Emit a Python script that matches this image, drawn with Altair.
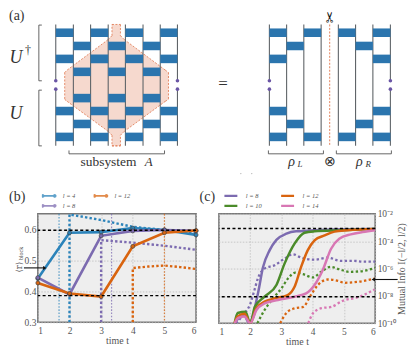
import altair as alt
import pandas as pd

SERIF = "Liberation Serif"
GREY = "#555555"
BLUE, PURPLE, ORANGE, GREEN, PINK = "#2b83ba", "#7c6bb0", "#d9640f", "#4b8b2a", "#d877b4"
GATE = "#2b75ae"

# ---------- diagram values (a) ----------
wires_left = [55, 72.7, 90, 107.7, 125, 142.7, 160, 177.3]
wires_right = [269.7, 287, 304.3, 321.7, 339, 356.3, 373.7, 391.3]
wire_top, wire_bottom, gap_top, gap_bottom = 22.7, 144.7, 79.3, 87.7
odd_rows_left = [31, 57.3, 109.7, 135.7]
even_rows_left = [44.3, 70.3, 96.7, 122.7]
gates_right = [
    (31, 0), (31, 2), (31, 4), (31, 6), (44.3, 1), (44.3, 5), (57.3, 0), (57.3, 6),
    (109.7, 0), (109.7, 6), (122.7, 1), (122.7, 5), (135.7, 0), (135.7, 2), (135.7, 4), (135.7, 6),
]
gate_half = 4.3
hex_x = [64, 66.5, 107.5, 111.5, 111.5, 120, 120, 124, 165, 168.3]
hex_top = [71, 68.5, 38, 34, 22.7, 22.7, 34, 38, 68.5, 71]
hex_bot = [98, 100, 130, 134, 144.7, 144.7, 134, 130, 100, 98]
brackets = [
    (41, 23.3, 38, 23.3), (38, 23.3, 38, 79.3), (38, 79.3, 41, 79.3),
    (41, 88.7, 38, 88.7), (38, 88.7, 38, 144.7), (38, 144.7, 41, 144.7),
    (68.3, 149.3, 68.3, 152.7), (68.3, 152.7, 164.3, 152.7), (164.3, 152.7, 164.3, 149.3),
    (268.7, 149.3, 268.7, 152.7), (268.7, 152.7, 324, 152.7), (324, 152.7, 324, 149.3),
    (337, 149.3, 337, 152.7), (337, 152.7, 392.3, 152.7), (392.3, 152.7, 392.3, 149.3),
]
panel_texts = [("(a)", 8, 14, 14, "normal", "left")]
math_texts = [
    ("U", 15, 56, 18, "italic", "center"), ("†", 27, 48, 12, "normal", "center"),
    ("U", 15, 113, 18, "italic", "center"), ("subsystem", 108, 161, 13.5, "normal", "center"),
    ("A", 148.5, 161, 13, "italic", "center"), ("=", 223, 83, 17, "normal", "center"),
    ("ρ", 292, 161, 14, "italic", "center"), ("L", 300.5, 163, 9, "italic", "center"),
    ("⊗", 331, 161, 14, "normal", "center"),
    ("ρ", 360, 161, 14, "italic", "center"), ("R", 369, 163, 9, "italic", "center"),
]
specks_x, specks_y = [241, 252], [172.6, 172.6]

# ---------- panel (b) ----------
t_axis = [1, 2, 3, 4, 5, 6]
b_solid = {
    "l = 4": [0.441, 0.589, 0.591, 0.604, 0.598, 0.582],
    "l = 8": [0.444, 0.390, 0.579, 0.595, 0.598, 0.595],
    "l = 12": [0.427, 0.393, 0.383, 0.545, 0.589, 0.596],
}
b_dotted = {
    "l = 4": ([2, 2, 3, 4, 5, 6], [0.30, 0.648, 0.630, 0.608, 0.598, 0.587]),
    "l = 8": ([3, 3, 4, 5, 6], [0.30, 0.565, 0.557, 0.547, 0.534]),
    "l = 12": ([4, 4, 4.5, 5, 5.5, 6], [0.30, 0.475, 0.480, 0.483, 0.478, 0.472]),
}
b_thin = {"l = 4": 1.67, "l = 8": 3.33, "l = 12": 5.0}
b_levels = [0.597, 0.386]
b_arrow = [0.56, 1.22]
b_arrow_y = 0.4755

# ---------- panel (c) ----------
c_solid = {
    "l = 8": ([1.5, 1.6, 1.8, 1.97, 2.25, 2.41, 2.62, 2.84, 3.16, 3.47, 3.85, 4.38, 5.1, 6],
              [-10, -9.7, -9.4, -10, -7.8, -5.9, -4.67, -3.9, -3.45, -3.28, -3.24, -3.16, -3.12, -3.1]),
    "l = 10": ([1.5, 1.6, 1.85, 2.0, 2.15, 2.46, 2.84, 3.1, 3.42, 3.74, 4.06, 4.9, 6],
               [-10, -9.25, -9.15, -10, -8.8, -8.06, -7.2, -5.64, -4.18, -3.38, -3.28, -3.2, -3.1]),
    "l = 12": ([1.5, 1.6, 1.82, 2.0, 2.2, 2.46, 2.78, 3.2, 3.42, 3.63, 3.84, 4.06, 4.38, 4.7, 5.12, 6],
               [-10, -9.5, -9.3, -10, -8.9, -8.42, -8.18, -7.94, -7.33, -5.88, -4.67, -3.94, -3.58, -3.3, -3.2, -3.1]),
    "l = 14": ([1.5, 1.62, 1.82, 2.0, 2.2, 2.46, 2.89, 3.42, 3.79, 4.06, 4.32, 4.59, 4.85, 5.22, 5.6, 6],
               [-10, -9.6, -9.5, -10, -9.03, -8.55, -8.3, -8.06, -7.82, -7.2, -6.12, -4.55, -3.82, -3.5, -3.33, -3.2]),
}
c_dotted = {
    "l = 8": ([1.55, 1.7, 1.85, 2.0, 2.12, 2.25, 2.46, 2.78, 3.1, 3.37, 3.63, 4.06, 4.48, 4.9, 5.33, 5.65, 6],
              [-10, -9.6, -9.2, -8.6, -7.7, -6.7, -6, -5.76, -5.27, -4.96, -5.2, -5.35, -5.2, -5.44, -5.44, -5.5, -5.5]),
    "l = 10": ([2.23, 2.46, 2.73, 3, 3.21, 3.44, 3.69, 4, 4.27, 4.57, 4.85, 5.17, 5.54, 6],
               [-10, -9.03, -8.18, -7.45, -6.73, -6.3, -6.41, -6.65, -6.24, -5.88, -6.05, -6.24, -6.2, -5.95]),
    "l = 12": ([2.96, 3.15, 3.43, 3.7, 3.91, 4.17, 4.49, 4.81, 5.02, 5.45, 5.98],
               [-10, -9.27, -8.9, -8.8, -8.06, -7.2, -6.8, -6.9, -7.04, -6.97, -6.73]),
    "l = 14": ([3.86, 4.01, 4.28, 4.6, 4.97, 5.45, 5.98],
               [-10, -9.27, -8.9, -8.8, -8.35, -8.1, -7.53]),
}
c_levels = [-3.07, -8.06]
c_ticks = [-2, -4, -6, -8, -10]
c_arrow = [5.94, 6.72]
c_arrow_y = -6.8

# ---------- (a) build ----------
X0, W, Y0, H = 37, 360, 8, 180
ax = alt.X("x:Q", scale=alt.Scale(domain=[X0, X0 + W], nice=False), axis=None, title=None)
ay = alt.Y("y:Q", scale=alt.Scale(domain=[Y0 + H, Y0], nice=False), axis=None, title=None)


def segs(rows):
    return pd.DataFrame(rows, columns=["x", "y", "x2", "y2"])


wire_rows = []
for wires in (wires_left, wires_right):
    for i, xv in enumerate(wires):
        if i in (0, len(wires) - 1):
            wire_rows += [(xv, wire_top, xv, gap_top), (xv, gap_bottom, xv, wire_bottom)]
        else:
            wire_rows.append((xv, wire_top, xv, wire_bottom))

gate_rows = []
for yc in odd_rows_left:
    for i in (0, 2, 4, 6):
        gate_rows.append((wires_left[i], yc - gate_half, wires_left[i + 1], yc + gate_half))
for yc in even_rows_left:
    for i in (1, 3, 5):
        gate_rows.append((wires_left[i], yc - gate_half, wires_left[i + 1], yc + gate_half))
for yc, i in gates_right:
    gate_rows.append((wires_right[i], yc - gate_half, wires_right[i + 1], yc + gate_half))

hex_df = pd.DataFrame({"x": hex_x, "y": hex_top, "y2": hex_bot})
outline = [(hex_x[i], hex_top[i], hex_x[i + 1], hex_top[i + 1]) for i in range(len(hex_x) - 1)]
outline += [(hex_x[i], hex_bot[i], hex_x[i + 1], hex_bot[i + 1]) for i in range(len(hex_x) - 1)]
outline += [(hex_x[0], hex_top[0], hex_x[0], hex_bot[0]), (hex_x[-1], hex_top[-1], hex_x[-1], hex_bot[-1]),
            (hex_x[4], hex_bot[4], hex_x[5], hex_bot[5])]


def seg_layer(rows, **kw):
    return alt.Chart(segs(rows)).mark_rule(**kw).encode(x=ax, y=ay, x2="x2:Q", y2="y2:Q")


def text_layer(rows):
    out = []
    for s, x, y, size, style, align in rows:
        out.append(
            alt.Chart(pd.DataFrame({"s": [s], "x": [x], "y": [y]}))
            .mark_text(font=SERIF, fontSize=size, fontStyle=style, align=align, baseline="middle", color="#333333")
            .encode(x=ax, y=ay, text="s:N")
        )
    return out


dots = pd.DataFrame({
    "x": [wires_left[0], wires_left[0], wires_left[-1], wires_left[-1],
          wires_right[0], wires_right[0], wires_right[-1], wires_right[-1]],
    "y": [gap_top, gap_bottom] * 4,
})
area = alt.Chart(hex_df).mark_area(color="#f6d9ce", interpolate="linear", opacity=1, orient="vertical", line=False).encode(
    x=ax, y=ay, y2=alt.Y2("y2:Q")
)
diagram = alt.layer(
    area,
    seg_layer(outline, color="#e0744a", strokeDash=[2, 1.5], strokeWidth=0.8),
    seg_layer(wire_rows, color="#5f6468", strokeWidth=1.1),
    seg_layer([(330.3, wire_top, 330.3, wire_bottom)], color="#e0744a", strokeDash=[2, 1.5], strokeWidth=0.9),
    alt.Chart(segs(gate_rows)).mark_rect(color=GATE).encode(x=ax, y=ay, x2="x2:Q", y2="y2:Q"),
    seg_layer(brackets, color="#555555", strokeWidth=0.9),
    alt.Chart(dots).mark_point(filled=True, color="#6a55a5", size=13, opacity=1).encode(x=ax, y=ay),
    alt.Chart(pd.DataFrame({"x": specks_x, "y": specks_y})).mark_point(filled=True, color="#aaaaaa", size=1.5, opacity=1).encode(x=ax, y=ay),
    alt.Chart(pd.DataFrame({"s": ["✂"], "x": [331], "y": [15]})).mark_text(font="DejaVu Sans", fontSize=15, angle=270, color="#111111").encode(x=ax, y=ay, text="s:N"),
    *text_layer(panel_texts + math_texts),
).properties(width=W, height=H)

# ---------- shared styling ----------
grid = dict(grid=True, gridColor="#bdbdbd", gridDash=[1.5, 1.5], gridWidth=0.8, domain=False, ticks=False,
            labelFont=SERIF, labelColor=GREY, labelFontSize=9.5, titleFont=SERIF, titleColor=GREY,
            titleFontWeight="normal")
panel_view = alt.ViewBackground(fill="#eeeeee", stroke="#777777", strokeWidth=1.6)
line_glyph = "M-1,0L1,0"
dot_glyph = ("M-1,0L1,0M-1.15,0A0.15,0.15 0 1,0 -0.85,0A0.15,0.15 0 1,0 -1.15,0"
             "M0.85,0A0.15,0.15 0 1,0 1.15,0A0.15,0.15 0 1,0 0.85,0")

# ---------- (b) build ----------
bx = alt.X("t:Q", scale=alt.Scale(domain=[1, 6], nice=False),
           axis=alt.Axis(values=t_axis, format="d", title="time t", labelPadding=3, titleFontSize=10, titlePadding=1, **grid))
by = alt.Y("v:Q", scale=alt.Scale(domain=[0.3, 0.65], nice=False),
           axis=alt.Axis(values=[0.3, 0.4, 0.5, 0.6], format=".1f", title=None, labelPadding=2, **grid))
b_names = ["l = 4", "l = 8", "l = 12"]
b_colors = [BLUE, PURPLE, ORANGE]
b_color = alt.Color(
    "s:N",
    scale=alt.Scale(domain=b_names, range=b_colors),
    legend=alt.Legend(title=None, orient="none", legendX=4, legendY=-22, columns=2, symbolType=dot_glyph,
                      symbolSize=144, symbolStrokeWidth=1.8, labelFont=SERIF, labelFontStyle="italic",
                      labelFontSize=6.5, labelColor=GREY, columnPadding=18, rowPadding=2, clipHeight=8, labelOffset=7),
)
sol = pd.DataFrame([{"t": t, "v": v, "s": k} for k, vs in b_solid.items() for t, v in zip(t_axis, vs)])
dot = pd.DataFrame([{"t": t, "v": v, "s": k, "o": i} for k, (ts, vs) in b_dotted.items() for i, (t, v) in enumerate(zip(ts, vs))])
thin = pd.DataFrame([{"t": t, "s": k} for k, t in b_thin.items()])
b_panel = alt.layer(
    alt.Chart(thin).mark_rule(strokeDash=[1.6, 1.6], strokeWidth=1.2, opacity=0.75).encode(x=bx, color=b_color),
    alt.Chart(dot).mark_line(strokeDash=[2.4, 2.2], strokeWidth=2.4, clip=True).encode(x=bx, y=by, color=b_color, order="o:Q"),
    alt.Chart(sol).mark_line(strokeWidth=2.6).encode(x=bx, y=by, color=b_color),
    alt.Chart(sol).mark_point(filled=True, size=16, stroke="#444444", strokeWidth=0.7, opacity=1).encode(x=bx, y=by, fill=alt.Fill("s:N", scale=alt.Scale(domain=b_names, range=b_colors), legend=None)),
    alt.Chart(pd.DataFrame({"v": b_levels})).mark_rule(color="black", strokeDash=[3, 2.4], strokeWidth=1.4).encode(y=by),
    alt.Chart(pd.DataFrame({"t": [b_arrow[0]], "t2": [b_arrow[1]], "v": [b_arrow_y]})).mark_rule(color="#111111", strokeWidth=1.1).encode(x=bx, x2="t2:Q", y=by),
    alt.Chart(pd.DataFrame({"t": [b_arrow[1]], "v": [b_arrow_y]})).mark_point(shape="triangle-right", filled=True, color="#111111", size=16, opacity=1).encode(x=bx, y=by),
    alt.Chart(pd.DataFrame({"s": ["⟨r⟩"], "t": [0.42], "v": [0.478]})).mark_text(font="DejaVu Serif", fontSize=8.5, angle=270, color=GREY).encode(x=bx, y=by, text="s:N"),
    alt.Chart(pd.DataFrame({"s": ["block"], "t": [0.47], "v": [0.522]})).mark_text(font=SERIF, fontSize=6, angle=270, color=GREY).encode(x=bx, y=by, text="s:N"),
    alt.Chart(pd.DataFrame({"s": ["(b)"], "t": [0.09], "v": [0.7046]})).mark_text(font=SERIF, fontSize=14, align="left", color="#333333").encode(x=bx, y=by, text="s:N"),
).properties(width=159, height=109, view=panel_view)

# ---------- (c) build ----------
cx = alt.X("t:Q", scale=alt.Scale(domain=[1, 6], nice=False),
           axis=alt.Axis(values=t_axis, format="d", title="time t", labelPadding=3, titleFontSize=10, titlePadding=1, **grid))
cy = alt.Y("v:Q", scale=alt.Scale(type="log", base=10, domain=[1e-10, 1e-2], nice=False),
           axis=alt.Axis(orient="right", values=[10.0 ** e for e in c_ticks], title="Mutual Info I(−l/2, l/2)",
                         titleAngle=270, titleFontSize=10, titlePadding=11, labelPadding=2,
                         labelExpr="'10⁻' + {'2':'²','4':'⁴','6':'⁶','8':'⁸','10':'¹⁰'}[format(-round(log(datum.value)/LN10),'d')]",
                         **grid))
c_names = ["l = 8", "l = 10", "l = 12", "l = 14"]
c_colors = [PURPLE, GREEN, ORANGE, PINK]
c_color = alt.Color(
    "s:N",
    scale=alt.Scale(domain=c_names, range=c_colors),
    legend=alt.Legend(title=None, orient="none", legendX=4, legendY=-22, columns=2, symbolType=line_glyph,
                      symbolSize=169, symbolStrokeWidth=2.4, labelFont=SERIF, labelFontStyle="italic",
                      labelFontSize=6.5, labelColor=GREY, columnPadding=18, rowPadding=2, clipHeight=8, labelOffset=7),
)
c_sol = pd.DataFrame([{"t": t, "v": 10.0 ** e, "s": k, "o": i} for k, (ts, es) in c_solid.items() for i, (t, e) in enumerate(zip(ts, es))])
c_dot = pd.DataFrame([{"t": t, "v": 10.0 ** e, "s": k, "o": i} for k, (ts, es) in c_dotted.items() for i, (t, e) in enumerate(zip(ts, es))])
c_panel = alt.layer(
    alt.Chart(c_dot).mark_line(strokeDash=[2.4, 2.4], strokeWidth=2.3, clip=True, interpolate="monotone").encode(x=cx, y=cy, color=c_color, order="o:Q"),
    alt.Chart(c_sol).mark_line(strokeWidth=2.5, clip=True, interpolate="monotone").encode(x=cx, y=cy, color=c_color, order="o:Q"),
    alt.Chart(pd.DataFrame({"v": [10.0 ** e for e in c_levels]})).mark_rule(color="black", strokeDash=[3, 2.4], strokeWidth=1.4).encode(y=cy),
    alt.Chart(pd.DataFrame({"t": [c_arrow[0]], "t2": [c_arrow[1]], "v": [10.0 ** c_arrow_y]})).mark_rule(color="#111111", strokeWidth=1.1).encode(x=cx, x2="t2:Q", y=cy),
    alt.Chart(pd.DataFrame({"t": [c_arrow[0]], "v": [10.0 ** c_arrow_y]})).mark_point(shape="triangle-left", filled=True, color="#111111", size=16, opacity=1).encode(x=cx, y=cy),
    alt.Chart(pd.DataFrame({"s": ["(c)"], "t": [0.38], "v": [10.0 ** -0.76]})).mark_text(font=SERIF, fontSize=14, align="left", color="#333333").encode(x=cx, y=cy, text="s:N"),
).properties(width=157, height=110, view=panel_view)

bottom = alt.hconcat(b_panel, c_panel, spacing=-4).resolve_scale(color="independent", fill="independent", x="independent", y="independent")
chart = (
    alt.vconcat(diagram, bottom, spacing=0)
    .properties(padding=0, background="white")
    .configure_view(stroke=None)
    .configure_concat(spacing=0)
)
chart.save("out.html", embed_options={"renderer": "svg", "actions": False})
